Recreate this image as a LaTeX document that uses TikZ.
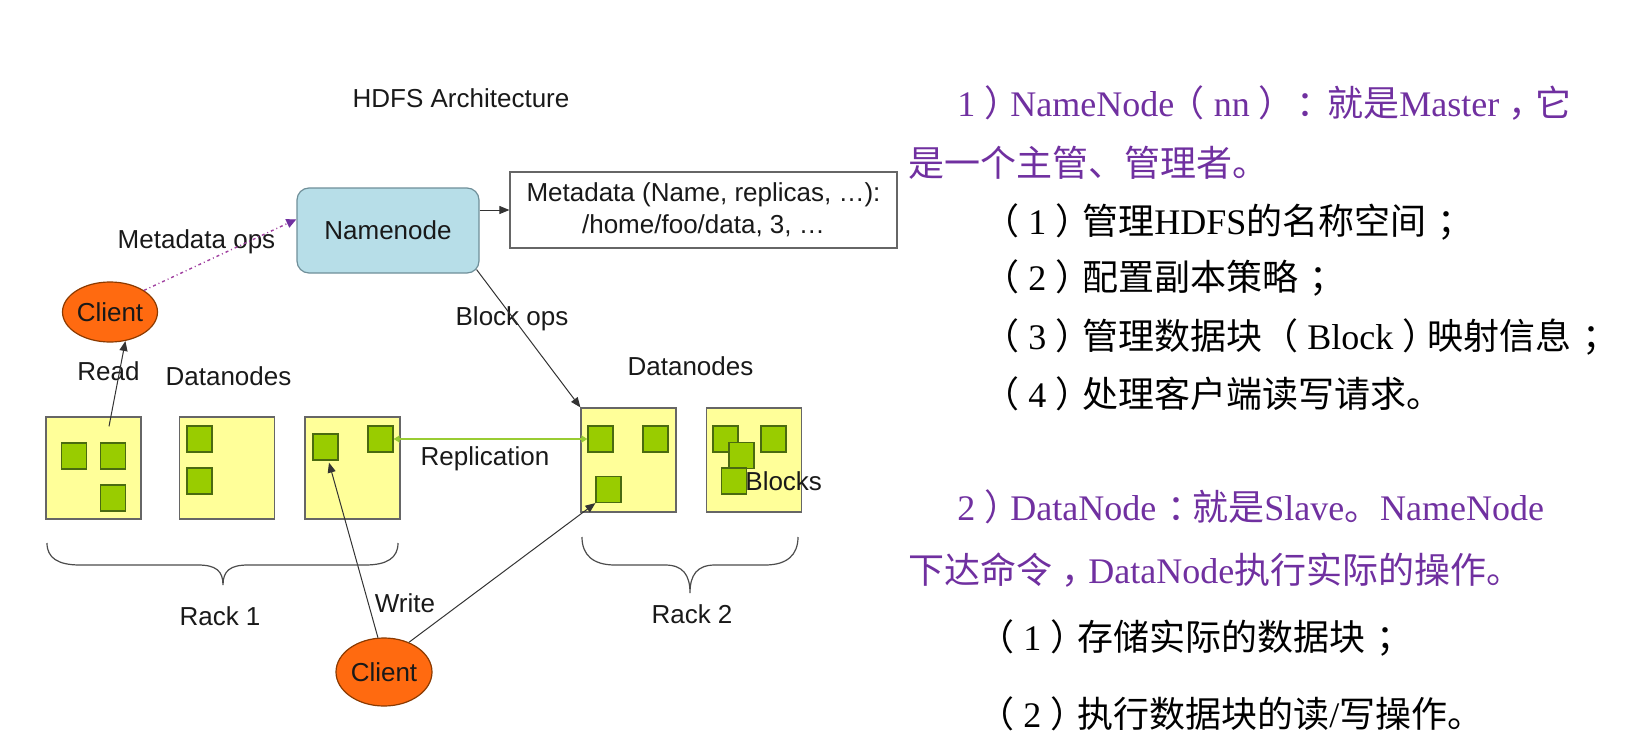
\documentclass[tikz,border=0pt]{standalone}
\usepackage{fontspec}
\setmainfont{Liberation Serif}
\newfontfamily\arial{Liberation Sans}
\newfontfamily\cjk{Noto Sans CJK SC}
\usetikzlibrary{arrows.meta,shapes.geometric,calc}
\definecolor{purp}{HTML}{7030A0}
\definecolor{ylw}{HTML}{FFFF99}
\definecolor{blkf}{HTML}{99CC00}
\definecolor{blkb}{HTML}{4A6A10}
\definecolor{nnf}{HTML}{B7DEE8}
\definecolor{nnb}{HTML}{6F8F99}
\definecolor{clif}{HTML}{FF6A10}
\definecolor{clib}{HTML}{8B3A00}
\definecolor{mviol}{HTML}{A040A0}
\definecolor{replc}{HTML}{99CC33}
\newcommand\zh[1]{{\cjk #1}}
\newcommand\zc{\kern.25em\zh{，}\kern-.25em}
\newcommand\zcol{\kern.3em\zh{：}\kern-.3em}
\newcommand\zsemi{\kern.3em\zh{；}}
\begin{document}
\begin{tikzpicture}[x=0.5pt,y=-0.5pt,
  lbl/.style={font=\arial\fontsize{13}{15}\selectfont, inner sep=0pt, text=black!90, text height=0.75em, text depth=0.2em},
  rackbox/.style={draw=black!60, line width=0.6pt, fill=ylw, minimum width=47.5pt, minimum height=51pt, inner sep=0pt},
  blk/.style={draw=blkb, line width=0.6pt, fill=blkf, minimum width=12.5pt, minimum height=13pt, inner sep=0pt},
  client/.style={ellipse, draw=clib, fill=clif, line width=0.6pt, inner sep=0pt, minimum width=47.5pt, minimum height=30pt, font=\arial\fontsize{13}{15}\selectfont, text=black!90},
  namebox/.style={draw=nnb, fill=nnf, line width=0.6pt, rounded corners=6pt, minimum width=91pt, minimum height=42.5pt, inner sep=0pt, font=\arial\fontsize{13}{15}\selectfont, text=black!90},
  metabox/.style={draw=black!60, fill=white, line width=0.6pt, minimum width=193.5pt, minimum height=38pt, inner sep=0pt, align=center, font=\arial\fontsize{13}{16}\selectfont, text=black!90},
  conn/.style={draw=black!80, line width=0.5pt, -{Triangle[length=5pt,width=4pt]}},
  mops/.style={draw=mviol, line width=0.7pt, dash pattern=on 1.5pt off 1.5pt on 0.5pt off 1.5pt, -{Triangle[length=5pt,width=4.5pt,fill=purp,color=purp]}},
  repl/.style={draw=replc, line width=0.8pt, {Triangle[length=3pt,width=3.5pt]}-{Triangle[length=3pt,width=3.5pt]}},
  bracepath/.style={draw=black!70, line width=0.6pt},
  zhl/.style={anchor=base west, inner sep=0pt, font=\fontsize{18}{22}\selectfont}
]
\useasboundingbox (0,0) rectangle (1643,755);

% ---------- diagram ----------
\node[lbl] (title) at (461,102) {HDFS Architecture};
\node[namebox] (nn) at (388,230.5) {Namenode};
\node[metabox] (meta) at (703.5,210) {Metadata (Name, replicas, …):\\/home/foo/data, 3, …};
\node[client] (c1) at (110,312) {Client};
\node[client, minimum width=48pt, minimum height=34pt] (c2) at (384,672) {Client};

% racks
\node[rackbox] (box1) at (93.5,468) {};
\node[rackbox] (box2) at (227,468) {};
\node[rackbox] (box3) at (352.5,468) {};
\node[rackbox, minimum height=52pt] (box4) at (628.5,460) {};
\node[rackbox, minimum height=52pt] (box5) at (754,460) {};

% blocks
\node[blk] (b1a) at (74,456) {};
\node[blk] (b1b) at (113,456) {};
\node[blk] (b1c) at (113,498) {};
\node[blk] (b2a) at (199.5,439) {};
\node[blk] (b2b) at (199.5,481) {};
\node[blk] (b3a) at (325.5,447) {};
\node[blk] (b3b) at (380.5,439) {};
\node[blk] (b4a) at (600.5,439) {};
\node[blk] (b4b) at (655.5,439) {};
\node[blk] (b4c) at (608.5,489.5) {};
\node[blk] (b5a) at (725.5,439) {};
\node[blk] (b5b) at (773.5,439) {};
\node[blk] (b5c) at (741.5,455.5) {};
\node[blk] (b5d) at (734,481) {};

% labels
\node[lbl] (mopsl) at (196.5,243) {Metadata ops};
\node[lbl] (readl) at (108.5,375) {Read};
\node[lbl] (dn1) at (228.5,380) {Datanodes};
\node[lbl] (dn2) at (690.5,370) {Datanodes};
\node[lbl] (bops) at (512,320) {Block ops};
\node[lbl] (repll) at (485,460) {Replication};
\node[lbl, anchor=west] (blks) at (745,485) {Blocks};
\node[lbl] (writel) at (405,607) {Write};
\node[lbl] (rack1) at (220,620) {Rack 1};
\node[lbl] (rack2) at (692,618) {Rack 2};

% connectors
\draw[conn] (meta.west -| nn.east) -- (meta.west);
\draw[conn] ($(nn.south east)+(-3,-4)$) -- (box4.north west);
\draw[conn] ([xshift=7.75pt,yshift=-5pt]box1.north) -- (c1.-62);
\draw[mops] (c1.north east) -- (nn.173);
\draw[conn] (c2.100) -- ([xshift=1.75pt,yshift=-1pt]b3a.south);
\draw[conn] (c2.50) -- (b4c.south west);
\draw[repl] (b3b.east) -- (b4a.west);

% braces
\draw[bracepath] (47,543) .. controls (47,558) and (58,565) .. (80,565) -- (198,565)
  .. controls (216,565) and (223,571) .. (223,585)
  .. controls (223,571) and (230,565) .. (248,565) -- (365,565)
  .. controls (387,565) and (398,558) .. (398,543);
\draw[bracepath] (582,537) .. controls (582,555) and (593,565) .. (615,565) -- (665,565)
  .. controls (683,565) and (690,575) .. (690,593)
  .. controls (690,575) and (697,565) .. (715,565) -- (765,565)
  .. controls (787,565) and (798,555) .. (798,537);

% ---------- right text ----------
\node[zhl, text=purp] (t1) at (957,116) {1 \zh{）}\kern-.28em NameNode\kern-.15em\zh{（} nn \zh{）}\kern.05em\zh{：}\kern-.15em\zh{就是}Master\zc\zh{它}};
\node[zhl, text=purp] (t2) at (908,176) {\zh{是一个主管、管理者。}};
\node[zhl] (t3) at (983,234) {\zh{（} 1 \zh{）}\kern-.25em\zh{管理}HDFS\zh{的名称空间}\zsemi};
\node[zhl] (t4) at (983,290) {\zh{（} 2 \zh{）}\kern-.25em\zh{配置副本策略}\zsemi};
\node[zhl] (t5) at (983,349) {\zh{（} 3 \zh{）}\kern-.25em\zh{管理数据块（} Block \zh{）}\kern-.3em\zh{映射信息}\zsemi};
\node[zhl] (t6) at (983,407) {\zh{（} 4 \zh{）}\kern-.25em\zh{处理客户端读写请求。}};
\node[zhl, text=purp] (t7) at (957,520) {2 \zh{）}\kern-.28em DataNode\zcol\zh{就是}Slave\zh{。}NameNode};
\node[zhl, text=purp] (t8) at (908,583) {\zh{下达命令}\zc DataNode\zh{执行实际的操作。}};
\node[zhl] (t9) at (978,650) {\zh{（} 1 \zh{）}\kern-.25em\zh{存储实际的数据块}\zsemi};
\node[zhl] (t10) at (978,727) {\zh{（} 2 \zh{）}\kern-.25em\zh{执行数据块的读}/\zh{写操作。}};
\end{tikzpicture}
\end{document}
